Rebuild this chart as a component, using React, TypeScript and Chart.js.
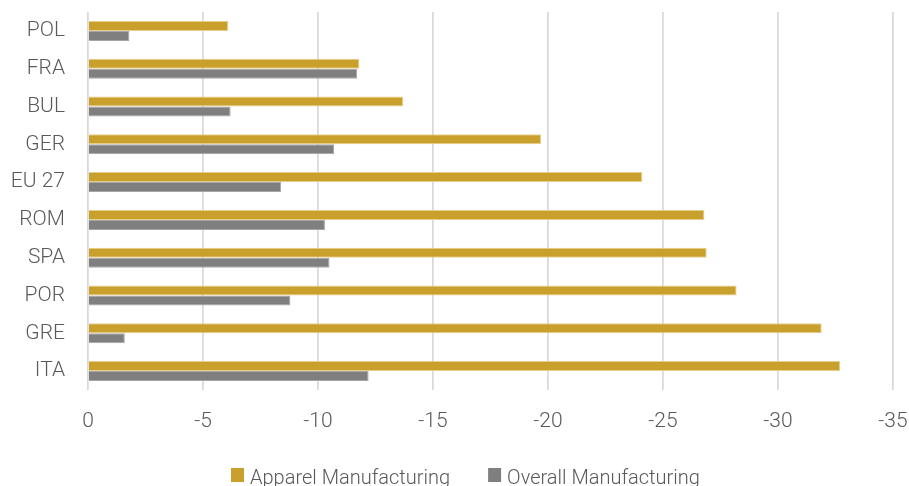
import React, { useEffect, useRef } from "react";
import { Chart, registerables } from "chart.js";

Chart.register(...registerables);

const categories = ["POL", "FRA", "BUL", "GER", "EU 27", "ROM", "SPA", "POR", "GRE", "ITA"];
const apparelValues = [-6.1, -11.8, -13.7, -19.7, -24.1, -26.8, -26.9, -28.2, -31.9, -32.7];
const overallValues = [-1.8, -11.7, -6.2, -10.7, -8.4, -10.3, -10.5, -8.8, -1.6, -12.2];
const seriesLabels = ["Apparel Manufacturing", "Overall Manufacturing"];
const seriesColors = ["#C9A02C", "#7F7F7F"];
const seriesBorders = ["#E6CF8C", "#A6A6A6"];
const xMin = -35;
const xMax = 0;
const xStep = 5;

const labelFont = "Roboto, 'Open Sans', 'Noto Sans', sans-serif";
const textColor = "#595959";

// Bottom legend, placed slightly left of the canvas centre as in the reference.
const bottomLegend = {
  id: "bottomLegend",
  afterDraw(chart: any) {
    const ctx = chart.ctx;
    const area = chart.chartArea;
    ctx.save();
    ctx.font = `300 20px ${labelFont}`;
    ctx.textBaseline = "alphabetic";
    ctx.textAlign = "left";
    let x = area.left + 143;
    const baseY = chart.height - 2;
    chart.data.datasets.forEach((ds: any) => {
      ctx.fillStyle = ds.backgroundColor;
      ctx.fillRect(x, baseY - 16, 13, 14);
      x += 19;
      ctx.fillStyle = textColor;
      ctx.fillText(ds.label, x, baseY);
      x += ctx.measureText(ds.label).width + 38;
    });
    ctx.restore();
  },
};

export default function App() {
  const ref = useRef<HTMLCanvasElement>(null);
  useEffect(() => {
    if (!ref.current) return;
    const chart = new Chart(ref.current, {
      type: "bar",
      data: {
        labels: categories,
        datasets: [
          {
            label: seriesLabels[0],
            data: apparelValues,
            backgroundColor: seriesColors[0],
            borderColor: seriesBorders[0],
            borderWidth: 1,
            categoryPercentage: 0.53,
            barPercentage: 1,
          },
          {
            label: seriesLabels[1],
            data: overallValues,
            backgroundColor: seriesColors[1],
            borderColor: seriesBorders[1],
            borderWidth: 1,
            categoryPercentage: 0.53,
            barPercentage: 1,
          },
        ],
      },
      options: {
        indexAxis: "y",
        animation: false,
        responsive: true,
        maintainAspectRatio: false,
        layout: { padding: { left: 0, right: 16, top: 12, bottom: 56 } },
        plugins: {
          legend: { display: false },
          tooltip: { enabled: false },
        },
        scales: {
          x: {
            type: "linear",
            min: xMin,
            max: xMax,
            reverse: true,
            ticks: {
              stepSize: xStep,
              color: textColor,
              font: { family: labelFont, size: 21, weight: "300" },
              padding: 19,
            },
            grid: {
              color: "#D9D9D9",
              lineWidth: 1.75,
              drawTicks: false,
            },
            border: { display: false },
            afterFit: (scale: any) => {
              scale.height = 40;
              scale.paddingLeft = 0;
              scale.paddingRight = 0;
            },
          },
          y: {
            ticks: {
              color: textColor,
              font: { family: labelFont, size: 21, weight: "300" },
              padding: 23,
            },
            grid: { display: false, drawTicks: false },
            border: { display: false },
            afterFit: (scale: any) => {
              scale.width = 88;
              scale.paddingTop = 0;
              scale.paddingBottom = 0;
            },
          },
        },
      } as any,
      plugins: [bottomLegend],
    });
    return () => chart.destroy();
  }, []);
  return (
    <div style={{ position: "fixed", left: 0, top: 0, width: 909, height: 486, background: "#fff" }}>
      <canvas ref={ref} />
    </div>
  );
}
